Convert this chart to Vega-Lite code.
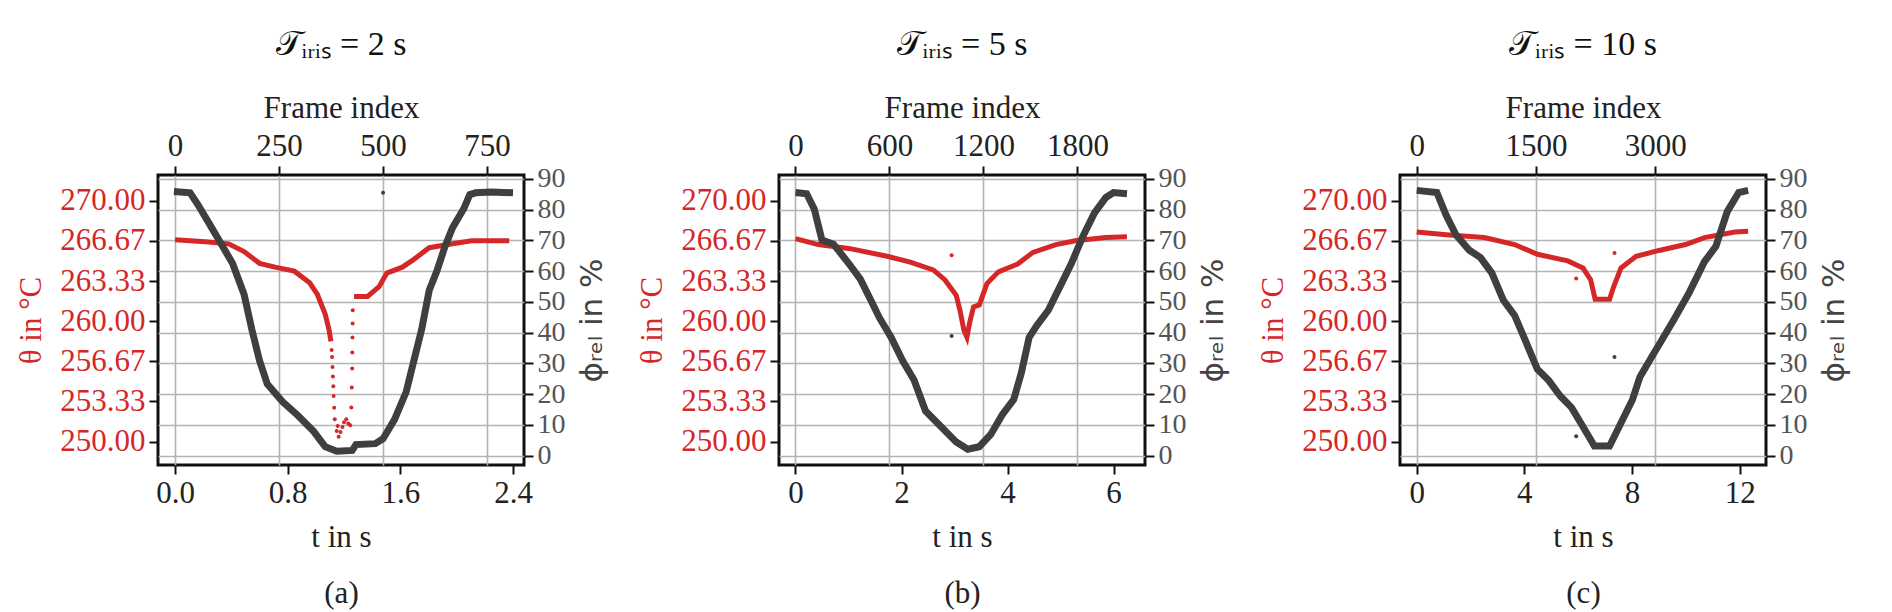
{
  "$schema": "https://vega.github.io/schema/vega-lite/v6.json",
  "padding": {"left": 14, "top": 26, "right": 5, "bottom": 5},
  "config": {
    "view": {"stroke": "#111", "strokeWidth": 3},
    "axis": {
      "labelFont": "Liberation Serif", "labelFontSize": 31, "labelColor": "#222", "labelOverlap": false,
      "titleFont": "Liberation Serif", "titleFontSize": 31, "titleFontWeight": "normal", "titleColor": "#222",
      "domain": false, "tickColor": "#111", "tickWidth": 2, "tickSize": 9,
      "gridColor": "#b4b4b4", "gridWidth": 1.6, "labelPadding": 4
    },
    "title": {"font": "Liberation Serif", "fontSize": 34, "fontWeight": "normal", "color": "#111", "offset": 30}
  },
  "datasets": {
    "d": [
      {"p":"a","s":"ph","k":"l","g":1,"t":-0.008,"v":85.9},{"p":"a","s":"ph","k":"l","g":1,"t":0.107,"v":85.5},{"p":"a","s":"ph","k":"l","g":1,"t":0.162,"v":81.7},{"p":"a","s":"ph","k":"l","g":1,"t":0.244,"v":75.4},{"p":"a","s":"ph","k":"l","g":1,"t":0.326,"v":69.0},{"p":"a","s":"ph","k":"l","g":1,"t":0.408,"v":62.6},{"p":"a","s":"ph","k":"l","g":1,"t":0.49,"v":52.5},{"p":"a","s":"ph","k":"l","g":1,"t":0.545,"v":41.1},{"p":"a","s":"ph","k":"l","g":1,"t":0.6,"v":30.9},{"p":"a","s":"ph","k":"l","g":1,"t":0.655,"v":23.3},{"p":"a","s":"ph","k":"l","g":1,"t":0.764,"v":17.5},{"p":"a","s":"ph","k":"l","g":1,"t":0.874,"v":13.0},{"p":"a","s":"ph","k":"l","g":1,"t":0.984,"v":7.9},{"p":"a","s":"ph","k":"l","g":1,"t":1.066,"v":2.9},{"p":"a","s":"ph","k":"l","g":1,"t":1.148,"v":1.4},{"p":"a","s":"ph","k":"l","g":1,"t":1.258,"v":1.7},{"p":"a","s":"ph","k":"l","g":1,"t":1.285,"v":3.6},{"p":"a","s":"ph","k":"l","g":1,"t":1.422,"v":3.9},{"p":"a","s":"ph","k":"l","g":1,"t":1.477,"v":5.5},{"p":"a","s":"ph","k":"l","g":1,"t":1.559,"v":11.8},{"p":"a","s":"ph","k":"l","g":1,"t":1.641,"v":20.7},{"p":"a","s":"ph","k":"l","g":1,"t":1.696,"v":30.9},{"p":"a","s":"ph","k":"l","g":1,"t":1.751,"v":41.0},{"p":"a","s":"ph","k":"l","g":1,"t":1.805,"v":53.8},{"p":"a","s":"ph","k":"l","g":1,"t":1.86,"v":60.1},{"p":"a","s":"ph","k":"l","g":1,"t":1.915,"v":67.8},{"p":"a","s":"ph","k":"l","g":1,"t":1.97,"v":74.1},{"p":"a","s":"ph","k":"l","g":1,"t":2.052,"v":80.5},{"p":"a","s":"ph","k":"l","g":1,"t":2.093,"v":84.9},{"p":"a","s":"ph","k":"l","g":1,"t":2.134,"v":85.5},{"p":"a","s":"ph","k":"l","g":1,"t":2.244,"v":85.8},{"p":"a","s":"ph","k":"l","g":1,"t":2.4,"v":85.5},
      {"p":"a","s":"ph","k":"d","g":0,"t":1.477,"v":85.5},
      {"p":"a","s":"th","k":"l","g":1,"t":0,"v":266.76},{"p":"a","s":"th","k":"l","g":1,"t":0.216,"v":266.6},{"p":"a","s":"th","k":"l","g":1,"t":0.381,"v":266.43},{"p":"a","s":"th","k":"l","g":1,"t":0.49,"v":265.79},{"p":"a","s":"th","k":"l","g":1,"t":0.6,"v":264.81},{"p":"a","s":"th","k":"l","g":1,"t":0.71,"v":264.49},{"p":"a","s":"th","k":"l","g":1,"t":0.847,"v":264.16},{"p":"a","s":"th","k":"l","g":1,"t":0.956,"v":263.19},{"p":"a","s":"th","k":"l","g":1,"t":1.011,"v":262.22},{"p":"a","s":"th","k":"l","g":1,"t":1.066,"v":260.6},{"p":"a","s":"th","k":"l","g":1,"t":1.093,"v":259.3},{"p":"a","s":"th","k":"l","g":1,"t":1.107,"v":258.33},
      {"p":"a","s":"th","k":"d","g":0,"t":1.112,"v":257.6},{"p":"a","s":"th","k":"d","g":0,"t":1.115,"v":257.03},{"p":"a","s":"th","k":"d","g":0,"t":1.118,"v":256.2},{"p":"a","s":"th","k":"d","g":0,"t":1.121,"v":255.41},{"p":"a","s":"th","k":"d","g":0,"t":1.124,"v":254.6},{"p":"a","s":"th","k":"d","g":0,"t":1.126,"v":253.79},{"p":"a","s":"th","k":"d","g":0,"t":1.13,"v":252.8},{"p":"a","s":"th","k":"d","g":0,"t":1.134,"v":251.85},{"p":"a","s":"th","k":"d","g":0,"t":1.148,"v":250.88},{"p":"a","s":"th","k":"d","g":0,"t":1.155,"v":251.3},{"p":"a","s":"th","k":"d","g":0,"t":1.162,"v":250.39},{"p":"a","s":"th","k":"d","g":0,"t":1.175,"v":250.8},{"p":"a","s":"th","k":"d","g":0,"t":1.189,"v":251.2},{"p":"a","s":"th","k":"d","g":0,"t":1.2,"v":251.6},{"p":"a","s":"th","k":"d","g":0,"t":1.216,"v":251.85},{"p":"a","s":"th","k":"d","g":0,"t":1.23,"v":251.5},{"p":"a","s":"th","k":"d","g":0,"t":1.244,"v":251.36},{"p":"a","s":"th","k":"d","g":0,"t":1.252,"v":252.82},{"p":"a","s":"th","k":"d","g":0,"t":1.255,"v":254.5},{"p":"a","s":"th","k":"d","g":0,"t":1.258,"v":256.06},{"p":"a","s":"th","k":"d","g":0,"t":1.259,"v":257.4},{"p":"a","s":"th","k":"d","g":0,"t":1.26,"v":258.65},{"p":"a","s":"th","k":"d","g":0,"t":1.261,"v":259.8},{"p":"a","s":"th","k":"d","g":0,"t":1.262,"v":260.92},
      {"p":"a","s":"th","k":"l","g":2,"t":1.271,"v":262.06},{"p":"a","s":"th","k":"l","g":2,"t":1.367,"v":262.06},{"p":"a","s":"th","k":"l","g":2,"t":1.449,"v":262.87},{"p":"a","s":"th","k":"l","g":2,"t":1.504,"v":264.0},{"p":"a","s":"th","k":"l","g":2,"t":1.614,"v":264.49},{"p":"a","s":"th","k":"l","g":2,"t":1.696,"v":265.14},{"p":"a","s":"th","k":"l","g":2,"t":1.805,"v":266.11},{"p":"a","s":"th","k":"l","g":2,"t":1.97,"v":266.43},{"p":"a","s":"th","k":"l","g":2,"t":2.107,"v":266.69},{"p":"a","s":"th","k":"l","g":2,"t":2.373,"v":266.69},

      {"p":"b","s":"ph","k":"l","g":1,"t":0,"v":85.6},{"p":"b","s":"ph","k":"l","g":1,"t":0.21,"v":85.2},{"p":"b","s":"ph","k":"l","g":1,"t":0.355,"v":80.2},{"p":"b","s":"ph","k":"l","g":1,"t":0.499,"v":70.1},{"p":"b","s":"ph","k":"l","g":1,"t":0.716,"v":68.8},{"p":"b","s":"ph","k":"l","g":1,"t":1.006,"v":62.5},{"p":"b","s":"ph","k":"l","g":1,"t":1.223,"v":57.4},{"p":"b","s":"ph","k":"l","g":1,"t":1.44,"v":49.9},{"p":"b","s":"ph","k":"l","g":1,"t":1.585,"v":44.8},{"p":"b","s":"ph","k":"l","g":1,"t":1.802,"v":38.5},{"p":"b","s":"ph","k":"l","g":1,"t":2.019,"v":30.9},{"p":"b","s":"ph","k":"l","g":1,"t":2.236,"v":24.6},{"p":"b","s":"ph","k":"l","g":1,"t":2.453,"v":14.5},{"p":"b","s":"ph","k":"l","g":1,"t":2.742,"v":9.5},{"p":"b","s":"ph","k":"l","g":1,"t":3.032,"v":4.4},{"p":"b","s":"ph","k":"l","g":1,"t":3.249,"v":2.1},{"p":"b","s":"ph","k":"l","g":1,"t":3.466,"v":2.9},{"p":"b","s":"ph","k":"l","g":1,"t":3.683,"v":6.9},{"p":"b","s":"ph","k":"l","g":1,"t":3.9,"v":13.3},{"p":"b","s":"ph","k":"l","g":1,"t":4.117,"v":18.3},{"p":"b","s":"ph","k":"l","g":1,"t":4.262,"v":27.1},{"p":"b","s":"ph","k":"l","g":1,"t":4.407,"v":38.5},{"p":"b","s":"ph","k":"l","g":1,"t":4.551,"v":42.3},{"p":"b","s":"ph","k":"l","g":1,"t":4.768,"v":47.3},{"p":"b","s":"ph","k":"l","g":1,"t":4.986,"v":54.9},{"p":"b","s":"ph","k":"l","g":1,"t":5.203,"v":62.5},{"p":"b","s":"ph","k":"l","g":1,"t":5.42,"v":71.3},{"p":"b","s":"ph","k":"l","g":1,"t":5.637,"v":78.9},{"p":"b","s":"ph","k":"l","g":1,"t":5.854,"v":84.0},{"p":"b","s":"ph","k":"l","g":1,"t":5.999,"v":85.6},{"p":"b","s":"ph","k":"l","g":1,"t":6.252,"v":85.2},
      {"p":"b","s":"ph","k":"d","g":0,"t":2.945,"v":38.9},
      {"p":"b","s":"th","k":"l","g":1,"t":0,"v":266.86},{"p":"b","s":"th","k":"l","g":1,"t":0.427,"v":266.37},{"p":"b","s":"th","k":"l","g":1,"t":1.006,"v":266.05},{"p":"b","s":"th","k":"l","g":1,"t":1.729,"v":265.4},{"p":"b","s":"th","k":"l","g":1,"t":2.164,"v":264.91},{"p":"b","s":"th","k":"l","g":1,"t":2.598,"v":264.26},{"p":"b","s":"th","k":"l","g":1,"t":2.815,"v":263.45},{"p":"b","s":"th","k":"l","g":1,"t":3.032,"v":262.16},{"p":"b","s":"th","k":"l","g":1,"t":3.104,"v":260.86},{"p":"b","s":"th","k":"l","g":1,"t":3.177,"v":259.24},{"p":"b","s":"th","k":"l","g":1,"t":3.234,"v":258.65},{"p":"b","s":"th","k":"l","g":1,"t":3.285,"v":259.89},{"p":"b","s":"th","k":"l","g":1,"t":3.358,"v":261.18},{"p":"b","s":"th","k":"l","g":1,"t":3.466,"v":261.35},{"p":"b","s":"th","k":"l","g":1,"t":3.611,"v":263.13},{"p":"b","s":"th","k":"l","g":1,"t":3.828,"v":264.1},{"p":"b","s":"th","k":"l","g":1,"t":4.19,"v":264.75},{"p":"b","s":"th","k":"l","g":1,"t":4.479,"v":265.72},{"p":"b","s":"th","k":"l","g":1,"t":4.913,"v":266.37},{"p":"b","s":"th","k":"l","g":1,"t":5.275,"v":266.69},{"p":"b","s":"th","k":"l","g":1,"t":5.854,"v":266.95},{"p":"b","s":"th","k":"l","g":1,"t":6.252,"v":267.02},
      {"p":"b","s":"th","k":"d","g":0,"t":2.945,"v":265.49},

      {"p":"c","s":"ph","k":"l","g":1,"t":0,"v":86.3},{"p":"c","s":"ph","k":"l","g":1,"t":0.748,"v":85.6},{"p":"c","s":"ph","k":"l","g":1,"t":1.1,"v":78.1},{"p":"c","s":"ph","k":"l","g":1,"t":1.453,"v":71.9},{"p":"c","s":"ph","k":"l","g":1,"t":1.946,"v":66.9},{"p":"c","s":"ph","k":"l","g":1,"t":2.37,"v":64.4},{"p":"c","s":"ph","k":"l","g":1,"t":2.793,"v":59.4},{"p":"c","s":"ph","k":"l","g":1,"t":3.216,"v":50.6},{"p":"c","s":"ph","k":"l","g":1,"t":3.639,"v":45.6},{"p":"c","s":"ph","k":"l","g":1,"t":4.062,"v":36.9},{"p":"c","s":"ph","k":"l","g":1,"t":4.485,"v":28.1},{"p":"c","s":"ph","k":"l","g":1,"t":4.908,"v":24.4},{"p":"c","s":"ph","k":"l","g":1,"t":5.331,"v":19.4},{"p":"c","s":"ph","k":"l","g":1,"t":5.755,"v":15.6},{"p":"c","s":"ph","k":"l","g":1,"t":6.178,"v":9.4},{"p":"c","s":"ph","k":"l","g":1,"t":6.601,"v":3.1},{"p":"c","s":"ph","k":"l","g":1,"t":7.165,"v":3.1},{"p":"c","s":"ph","k":"l","g":1,"t":7.588,"v":10.6},{"p":"c","s":"ph","k":"l","g":1,"t":8.011,"v":18.1},{"p":"c","s":"ph","k":"l","g":1,"t":8.293,"v":25.6},{"p":"c","s":"ph","k":"l","g":1,"t":8.717,"v":31.9},{"p":"c","s":"ph","k":"l","g":1,"t":9.14,"v":38.1},{"p":"c","s":"ph","k":"l","g":1,"t":9.563,"v":44.4},{"p":"c","s":"ph","k":"l","g":1,"t":10.127,"v":53.1},{"p":"c","s":"ph","k":"l","g":1,"t":10.691,"v":63.1},{"p":"c","s":"ph","k":"l","g":1,"t":11.114,"v":68.1},{"p":"c","s":"ph","k":"l","g":1,"t":11.537,"v":79.4},{"p":"c","s":"ph","k":"l","g":1,"t":11.961,"v":85.6},{"p":"c","s":"ph","k":"l","g":1,"t":12.313,"v":86.3},
      {"p":"c","s":"ph","k":"d","g":0,"t":5.924,"v":6.3},{"p":"c","s":"ph","k":"d","g":0,"t":7.348,"v":32.1},
      {"p":"c","s":"th","k":"l","g":1,"t":0,"v":267.41},{"p":"c","s":"th","k":"l","g":1,"t":1.1,"v":267.18},{"p":"c","s":"th","k":"l","g":1,"t":2.511,"v":266.95},{"p":"c","s":"th","k":"l","g":1,"t":3.639,"v":266.37},{"p":"c","s":"th","k":"l","g":1,"t":4.485,"v":265.56},{"p":"c","s":"th","k":"l","g":1,"t":5.614,"v":265.01},{"p":"c","s":"th","k":"l","g":1,"t":6.178,"v":264.42},{"p":"c","s":"th","k":"l","g":1,"t":6.46,"v":263.45},{"p":"c","s":"th","k":"l","g":1,"t":6.629,"v":261.83},{"p":"c","s":"th","k":"l","g":1,"t":7.165,"v":261.83},{"p":"c","s":"th","k":"l","g":1,"t":7.306,"v":262.8},{"p":"c","s":"th","k":"l","g":1,"t":7.588,"v":264.42},{"p":"c","s":"th","k":"l","g":1,"t":8.152,"v":265.4},{"p":"c","s":"th","k":"l","g":1,"t":9.0,"v":265.88},{"p":"c","s":"th","k":"l","g":1,"t":9.986,"v":266.37},{"p":"c","s":"th","k":"l","g":1,"t":10.691,"v":266.95},{"p":"c","s":"th","k":"l","g":1,"t":11.819,"v":267.41},{"p":"c","s":"th","k":"l","g":1,"t":12.313,"v":267.47},
      {"p":"c","s":"th","k":"d","g":0,"t":5.924,"v":263.55},{"p":"c","s":"th","k":"d","g":0,"t":7.348,"v":265.66}
    ]
  },
  "spacing": 26,
  "hconcat": [
    {
      "width": 366, "height": 290,
      "title": "𝒯ᵢᵣᵢₛ = 2 s",
      "layer": [
        {
          "data": {"values": [{"f": -41}, {"f": 839}]},
          "mark": {"type": "point", "opacity": 0},
          "encoding": {"x": {"field": "f", "type": "quantitative", "scale": {"domain": [-41, 839], "nice": false, "zero": false},
            "axis": {"orient": "top", "values": [0, 250, 500, 750], "format": "d", "title": "Frame index", "grid": true, "titlePadding": 6}}}
        },
        {
          "data": {"name": "d"},
          "transform": [{"filter": "datum.p == 'a'"}],
          "encoding": {"x": {"field": "t", "type": "quantitative", "scale": {"domain": [-0.121, 2.478], "nice": false, "zero": false},
            "axis": {"values": [0, 0.8, 1.6, 2.4], "format": ".1f", "grid": false, "title": ["t in s", "(a)"], "titleLineHeight": 56, "titlePadding": 14}}},
          "layer": [
            {
              "transform": [{"filter": "datum.s == 'th'"}],
              "encoding": {"y": {"field": "v", "type": "quantitative", "scale": {"domain": [248.05, 272.15], "nice": false, "zero": false},
                "axis": {"orient": "left", "values": [250, 253.3333, 256.6667, 260, 263.3333, 266.6667, 270], "format": ".2f", "grid": false, "labelColor": "#d62728", "title": "θ in °C", "titleColor": "#d62728", "titlePadding": 12}}},
              "layer": [
                {"transform": [{"filter": "datum.k == 'l'"}], "mark": {"type": "line", "color": "#d62728", "strokeWidth": 5}, "encoding": {"detail": {"field": "g"}}},
                {"transform": [{"filter": "datum.k == 'd'"}], "mark": {"type": "circle", "color": "#d62728", "size": 16, "opacity": 1}}
              ]
            },
            {
              "transform": [{"filter": "datum.s == 'ph'"}],
              "encoding": {"y": {"field": "v", "type": "quantitative", "scale": {"domain": [-3.05, 91.3], "nice": false, "zero": false},
                "axis": {"orient": "right", "values": [0, 10, 20, 30, 40, 50, 60, 70, 80, 90], "labelFontSize": 28, "grid": true, "labelColor": "#555", "title": "ϕᵣₑₗ in %", "titleAngle": 270, "titleBaseline": "top", "titleFont": "DejaVu Sans", "titleColor": "#444", "titlePadding": 12}}},
              "layer": [
                {"transform": [{"filter": "datum.k == 'l'"}], "mark": {"type": "line", "color": "#3f3f3f", "strokeWidth": 7}, "encoding": {"detail": {"field": "g"}}},
                {"transform": [{"filter": "datum.k == 'd'"}], "mark": {"type": "circle", "color": "#3f3f3f", "size": 16, "opacity": 1}}
              ]
            }
          ],
          "resolve": {"scale": {"y": "independent"}}
        }
      ],
      "resolve": {"scale": {"x": "independent"}}
    },
    {
      "width": 366, "height": 290,
      "title": "𝒯ᵢᵣᵢₛ = 5 s",
      "layer": [
        {
          "data": {"values": [{"f": -105}, {"f": 2231}]},
          "mark": {"type": "point", "opacity": 0},
          "encoding": {"x": {"field": "f", "type": "quantitative", "scale": {"domain": [-105, 2231], "nice": false, "zero": false},
            "axis": {"orient": "top", "values": [0, 600, 1200, 1800], "format": "d", "title": "Frame index", "grid": true, "titlePadding": 6}}}
        },
        {
          "data": {"name": "d"},
          "transform": [{"filter": "datum.p == 'b'"}],
          "encoding": {"x": {"field": "t", "type": "quantitative", "scale": {"domain": [-0.311, 6.592], "nice": false, "zero": false},
            "axis": {"values": [0, 2, 4, 6], "grid": false, "title": ["t in s", "(b)"], "titleLineHeight": 56, "titlePadding": 14}}},
          "layer": [
            {
              "transform": [{"filter": "datum.s == 'th'"}],
              "encoding": {"y": {"field": "v", "type": "quantitative", "scale": {"domain": [248.05, 272.15], "nice": false, "zero": false},
                "axis": {"orient": "left", "values": [250, 253.3333, 256.6667, 260, 263.3333, 266.6667, 270], "format": ".2f", "grid": false, "labelColor": "#d62728", "title": "θ in °C", "titleColor": "#d62728", "titlePadding": 12}}},
              "layer": [
                {"transform": [{"filter": "datum.k == 'l'"}], "mark": {"type": "line", "color": "#d62728", "strokeWidth": 5}, "encoding": {"detail": {"field": "g"}}},
                {"transform": [{"filter": "datum.k == 'd'"}], "mark": {"type": "circle", "color": "#d62728", "size": 16, "opacity": 1}}
              ]
            },
            {
              "transform": [{"filter": "datum.s == 'ph'"}],
              "encoding": {"y": {"field": "v", "type": "quantitative", "scale": {"domain": [-3.05, 91.3], "nice": false, "zero": false},
                "axis": {"orient": "right", "values": [0, 10, 20, 30, 40, 50, 60, 70, 80, 90], "labelFontSize": 28, "grid": true, "labelColor": "#555", "title": "ϕᵣₑₗ in %", "titleAngle": 270, "titleBaseline": "top", "titleFont": "DejaVu Sans", "titleColor": "#444", "titlePadding": 12}}},
              "layer": [
                {"transform": [{"filter": "datum.k == 'l'"}], "mark": {"type": "line", "color": "#3f3f3f", "strokeWidth": 7}, "encoding": {"detail": {"field": "g"}}},
                {"transform": [{"filter": "datum.k == 'd'"}], "mark": {"type": "circle", "color": "#3f3f3f", "size": 16, "opacity": 1}}
              ]
            }
          ],
          "resolve": {"scale": {"y": "independent"}}
        }
      ],
      "resolve": {"scale": {"x": "independent"}}
    },
    {
      "width": 366, "height": 290,
      "title": "𝒯ᵢᵣᵢₛ = 10 s",
      "layer": [
        {
          "data": {"values": [{"f": -210}, {"f": 4395}]},
          "mark": {"type": "point", "opacity": 0},
          "encoding": {"x": {"field": "f", "type": "quantitative", "scale": {"domain": [-210, 4395], "nice": false, "zero": false},
            "axis": {"orient": "top", "values": [0, 1500, 3000], "format": "d", "title": "Frame index", "grid": true, "titlePadding": 6}}}
        },
        {
          "data": {"name": "d"},
          "transform": [{"filter": "datum.p == 'c'"}],
          "encoding": {"x": {"field": "t", "type": "quantitative", "scale": {"domain": [-0.62, 12.976], "nice": false, "zero": false},
            "axis": {"values": [0, 4, 8, 12], "grid": false, "title": ["t in s", "(c)"], "titleLineHeight": 56, "titlePadding": 14}}},
          "layer": [
            {
              "transform": [{"filter": "datum.s == 'th'"}],
              "encoding": {"y": {"field": "v", "type": "quantitative", "scale": {"domain": [248.05, 272.15], "nice": false, "zero": false},
                "axis": {"orient": "left", "values": [250, 253.3333, 256.6667, 260, 263.3333, 266.6667, 270], "format": ".2f", "grid": false, "labelColor": "#d62728", "title": "θ in °C", "titleColor": "#d62728", "titlePadding": 12}}},
              "layer": [
                {"transform": [{"filter": "datum.k == 'l'"}], "mark": {"type": "line", "color": "#d62728", "strokeWidth": 5}, "encoding": {"detail": {"field": "g"}}},
                {"transform": [{"filter": "datum.k == 'd'"}], "mark": {"type": "circle", "color": "#d62728", "size": 16, "opacity": 1}}
              ]
            },
            {
              "transform": [{"filter": "datum.s == 'ph'"}],
              "encoding": {"y": {"field": "v", "type": "quantitative", "scale": {"domain": [-3.05, 91.3], "nice": false, "zero": false},
                "axis": {"orient": "right", "values": [0, 10, 20, 30, 40, 50, 60, 70, 80, 90], "labelFontSize": 28, "grid": true, "labelColor": "#555", "title": "ϕᵣₑₗ in %", "titleAngle": 270, "titleBaseline": "top", "titleFont": "DejaVu Sans", "titleColor": "#444", "titlePadding": 12}}},
              "layer": [
                {"transform": [{"filter": "datum.k == 'l'"}], "mark": {"type": "line", "color": "#3f3f3f", "strokeWidth": 7}, "encoding": {"detail": {"field": "g"}}},
                {"transform": [{"filter": "datum.k == 'd'"}], "mark": {"type": "circle", "color": "#3f3f3f", "size": 16, "opacity": 1}}
              ]
            }
          ],
          "resolve": {"scale": {"y": "independent"}}
        }
      ],
      "resolve": {"scale": {"x": "independent"}}
    }
  ]
}
